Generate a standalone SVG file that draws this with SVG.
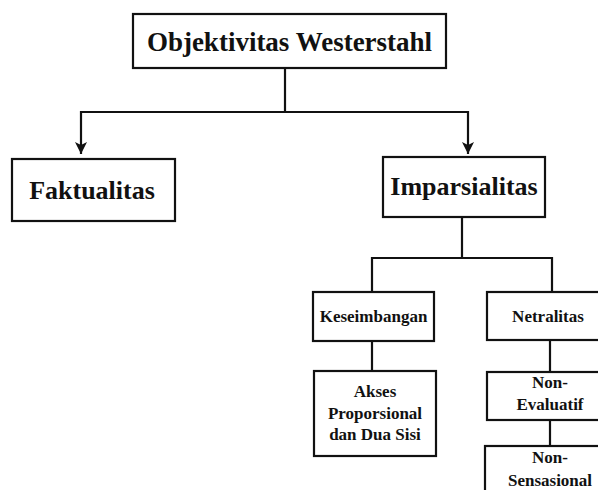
<svg xmlns="http://www.w3.org/2000/svg" width="598" height="490" viewBox="0 0 598 490">
<style>
  .box { fill: #ffffff; stroke: #111111; stroke-width: 2.2; }
  .wire { fill: none; stroke: #111111; stroke-width: 2.2; }
  text { font-family: "Liberation Serif", "Times New Roman", serif; font-weight: bold; fill: #111111; text-anchor: middle; }
  .t1 { font-size: 27px; }
  .t2 { font-size: 26px; }
  .t3 { font-size: 17px; }
</style>
<defs>
  <marker id="arr" viewBox="0 0 12 12" refX="12" refY="6" markerWidth="12" markerHeight="12" markerUnits="userSpaceOnUse" orient="auto">
    <path d="M0,0 L12,6 L0,12 L3,6 z" fill="#111111"/>
  </marker>
</defs>
<rect width="598" height="490" fill="#ffffff"/>
<g id="connectors">
  <path class="wire" d="M285,68 V112"/>
  <path class="wire" d="M80,112 H469"/>
  <path class="wire" d="M81,111 V154" marker-end="url(#arr)"/>
  <path class="wire" d="M468,111 V154" marker-end="url(#arr)"/>
  <path class="wire" d="M462,217 V258"/>
  <path class="wire" d="M371,258 H553"/>
  <path class="wire" d="M372,257 V292"/>
  <path class="wire" d="M552,257 V292"/>
  <path class="wire" d="M372,341 V371"/>
  <path class="wire" d="M550,340 V372"/>
  <path class="wire" d="M550,420 V446"/>
</g>
<g id="objektivitas">
  <rect class="box" x="133" y="14" width="313" height="54"/>
  <text class="t1" x="289.5" y="51">Objektivitas Westerstahl</text>
</g>
<g id="faktualitas">
  <rect class="box" x="12" y="159" width="163" height="62"/>
  <text class="t2" x="92" y="199">Faktualitas</text>
</g>
<g id="imparsialitas">
  <rect class="box" x="383" y="157" width="162" height="60"/>
  <text class="t2" x="464" y="195">Imparsialitas</text>
</g>
<g id="keseimbangan">
  <rect class="box" x="313" y="292" width="121" height="49"/>
  <text class="t3" x="373.5" y="322">Keseimbangan</text>
</g>
<g id="netralitas">
  <rect class="box" x="487" y="292" width="125" height="48"/>
  <text class="t3" x="548" y="322">Netralitas</text>
</g>
<g id="akses">
  <rect class="box" x="314" y="371" width="122" height="85"/>
  <text class="t3" x="375" y="397">Akses</text>
  <text class="t3" x="375" y="418.5">Proporsional</text>
  <text class="t3" x="375" y="440">dan Dua Sisi</text>
</g>
<g id="non-evaluatif">
  <rect class="box" x="487" y="372" width="125" height="48"/>
  <text class="t3" x="550" y="388">Non-</text>
  <text class="t3" x="550" y="410">Evaluatif</text>
</g>
<g id="non-sensasional">
  <rect class="box" x="485" y="446" width="127" height="60"/>
  <text class="t3" x="550" y="463">Non-</text>
  <text class="t3" x="550" y="486">Sensasional</text>
</g>
</svg>
